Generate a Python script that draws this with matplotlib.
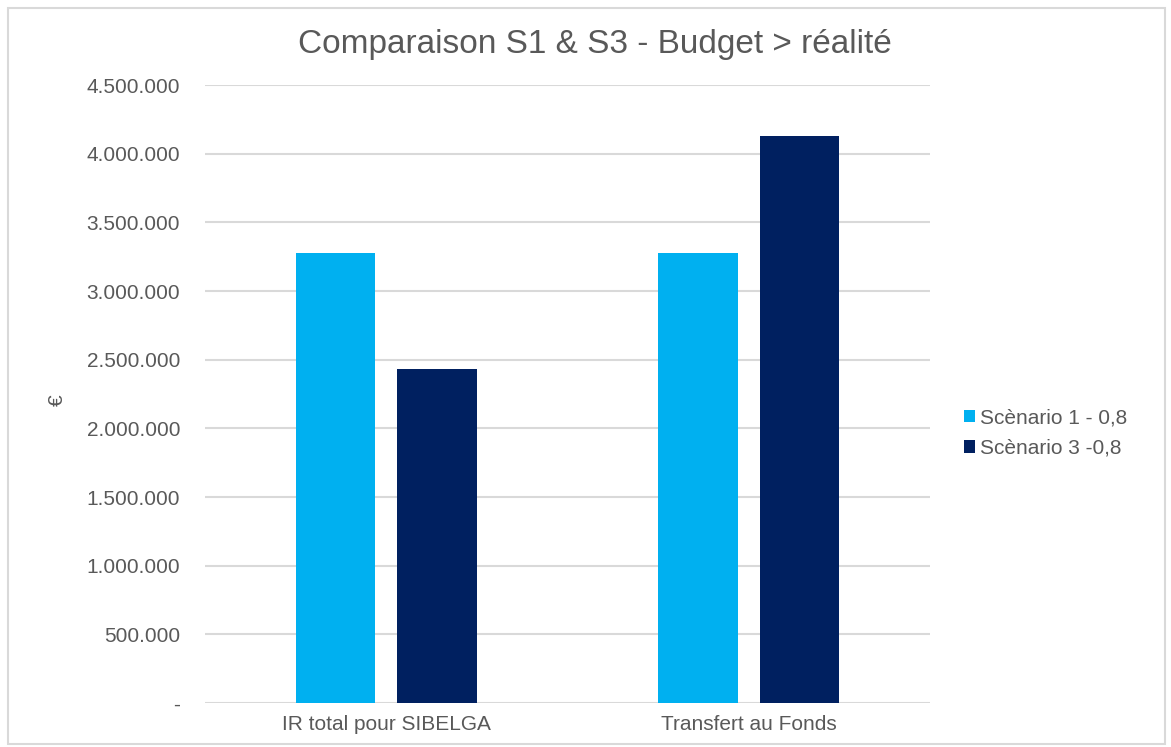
import matplotlib
matplotlib.use("Agg")
import matplotlib.pyplot as plt
import numpy as np
from matplotlib.patches import Rectangle
from matplotlib.ticker import FuncFormatter

categories = ["IR total pour SIBELGA", "Transfert au Fonds"]
series_names = ["Scènario 1 - 0,8", "Scènario 3 -0,8"]
s1_values = [3280000, 3280000]
s3_values = [2430000, 4130000]
y_ticks = [0, 500000, 1000000, 1500000, 2000000, 2500000, 3000000, 3500000, 4000000, 4500000]

colors = ["#00B0F0", "#002060"]
text_color = "#595959"

plt.rcParams['font.family'] = ['Liberation Sans', 'DejaVu Sans']

fig = plt.figure(figsize=(11.71, 7.47), dpi=100)
ax = fig.add_axes([205/1171, 1-703/747, (930-205)/1171, (703-85)/747])

x = np.arange(len(categories))
w = 0.218
off = 0.14
ax.bar(x - off, s1_values, width=w, color=colors[0], label=series_names[0], zorder=3)
ax.bar(x + off, s3_values, width=w, color=colors[1], label=series_names[1], zorder=3)

ax.set_xlim(-0.5, 1.5)
ax.set_ylim(0, 4500000)
ax.set_yticks(y_ticks)

def fmt(v, pos):
    if v == 0:
        return "-"
    return f"{int(v):,}".replace(",", ".")
ax.yaxis.set_major_formatter(FuncFormatter(fmt))
ax.set_xticks(x)
ax.set_xticklabels(categories)

ax.grid(axis='y', color='#D9D9D9', linewidth=1.5, zorder=0)
ax.set_axisbelow(True)
for s in ax.spines.values():
    s.set_visible(False)
ax.tick_params(axis='both', length=0, labelsize=15, colors=text_color)
ax.tick_params(axis='y', pad=18)
ax.tick_params(axis='x', pad=9)

ax.set_ylabel("€", fontsize=15, color=text_color)
ax.yaxis.set_label_coords(-0.19, 0.49)

fig.text(595/1171, 1-45/747, "Comparaison S1 & S3 - Budget > réalité", ha='center', va='center',
         fontsize=24, color=text_color)

leg = fig.legend(loc='center left', bbox_to_anchor=(945/1171, 1-433/747), frameon=False,
                 fontsize=15, handlelength=0.55, handleheight=0.55, handletextpad=0.25,
                 labelspacing=0.55)
for t in leg.get_texts():
    t.set_color(text_color)

fig.patches.append(Rectangle((8/1171, 1-744/747), (1165-8)/1171, (744-8)/747,
                             transform=fig.transFigure, fill=False, edgecolor='#D9D9D9',
                             linewidth=1.5))

fig.savefig("out.png", dpi=100)
